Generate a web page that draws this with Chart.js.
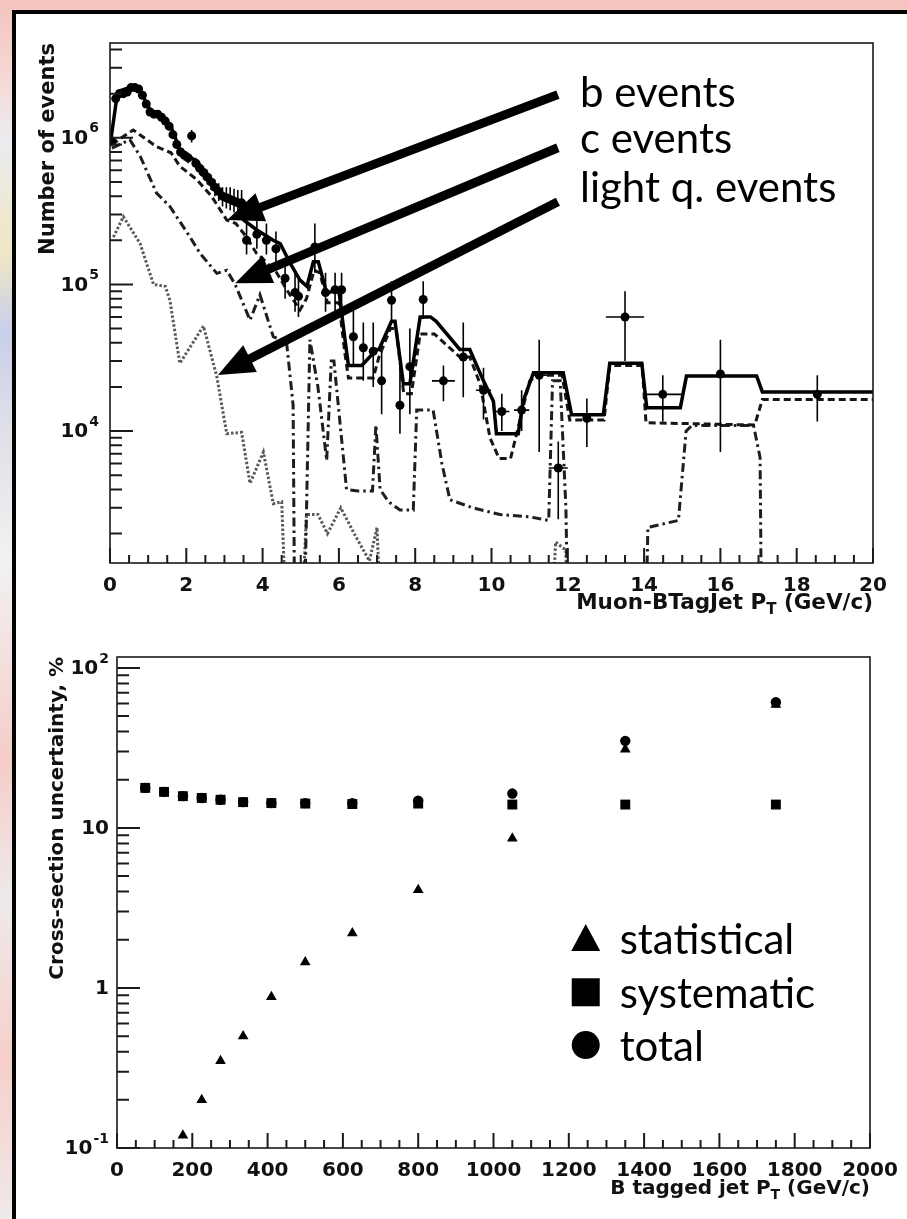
<!DOCTYPE html>
<html>
<head>
<meta charset="UTF-8">
<title>b-jet Muon PT and cross-section uncertainty</title>
<script src="https://cdn.jsdelivr.net/npm/chart.js@4.4.1/dist/chart.umd.min.js"></script>
<style>
  body{margin:0;width:907px;height:1219px;overflow:hidden;position:relative;
    background:linear-gradient(180deg,#f4c3bd 0,#f6d6d2 70px,#ececf0 140px,#f0e7c4 250px,#c9cfe9 330px,#dfe0e8 430px,#f2f2f2 560px,#f5cdc9 760px,#eeeaea 900px,#f6cfca 1060px,#efe9e9 1219px);}
  #panel{position:absolute;left:12px;top:10px;right:0;bottom:0;background:#fff;
    border-left:4px solid #000;border-top:4px solid #000;}
  #topChart{position:absolute;left:0;top:0;}
  #bottomChart{position:absolute;left:0;top:620px;}
</style>
</head>
<body>
<div id="panel"></div>
<canvas id="topChart" width="907" height="620"></canvas>
<canvas id="bottomChart" width="907" height="599"></canvas>
<script>
// ---- top plot: muon pT relative to b-tagged jet ----
// value, mantissa text, exponent text
const topYLabels=[[1e4,"10","4"],[1e5,"10","5"],[1e6,"10","6"]];

// x, value  (100 = empty bin, drawn below the axis)
const totalMC=[[0.03,1.0e6],[0.2,2.07e6],[0.6,2.24e6],[0.8,2.07e6],[1.05,1.55e6],[1.3,1.4e6],[1.6,1.19e6],
  [1.83,8.3e5],[2.27,6.9e5],[2.62,5.2e5],[2.97,4.0e5],[3.19,3.7e5],[3.41,3.4e5],[3.5,2.75e5],[3.85,2.35e5],
  [4.28,2.0e5],[4.46,1.9e5],[4.72,1.4e5],[4.98,1.07e5],[5.16,9.7e4],[5.33,1.43e5],[5.46,1.43e5],[5.68,8.7e4],
  [5.85,9.0e4],[6.0,9.0e4],[6.15,4.4e4],[6.25,2.8e4],[6.6,2.8e4],[6.99,3.6e4],[7.05,3.6e4],[7.38,5.6e4],
  [7.47,5.6e4],[7.69,2.1e4],[7.86,2.1e4],[8.13,6.0e4],[8.4,6.0e4],[8.55,5.6e4],[9.17,3.6e4],[9.43,3.6e4],
  [9.79,2.2e4],[10.05,1.6e4],[10.13,9.6e3],[10.7,9.6e3],[10.83,1.6e4],[11.1,2.5e4],[11.88,2.5e4],[12.1,1.29e4],
  [12.93,1.29e4],[13.1,2.9e4],[13.94,2.9e4],[14.07,1.44e4],[14.95,1.44e4],[15.11,2.37e4],[16.95,2.37e4],
  [17.1,1.85e4],[20,1.85e4]];
const bEvents=[[0.05,9.0e5],[0.3,1.0e6],[0.61,1.13e6],[1.22,8.7e5],[1.6,7.9e5],[1.83,6.4e5],[2.27,5.2e5],
  [2.66,4.0e5],[3.06,2.75e5],[3.3,2.6e5],[3.58,2.1e5],[3.84,1.63e5],[4.0,1.5e5],[4.37,1.2e5],[4.63,9.2e4],
  [4.98,6.7e4],[5.15,8.0e4],[5.35,1.25e5],[5.5,1.2e5],[5.7,7.5e4],[6.0,7.5e4],[6.15,3.5e4],[6.25,2.3e4],
  [6.9,2.3e4],[7.05,3.2e4],[7.35,5.0e4],[7.5,5.0e4],[7.7,1.8e4],[7.9,1.8e4],[8.13,4.6e4],[8.5,4.6e4],
  [9.17,3.2e4],[9.43,3.2e4],[9.7,2.1e4],[9.96,9.0e3],[10.2,6.5e3],[10.5,6.5e3],[10.75,1.2e4],[11.0,2.2e4],
  [11.2,2.4e4],[11.85,2.4e4],[12.05,1.19e4],[12.95,1.19e4],[13.1,2.8e4],[13.95,2.8e4],[14.05,1.14e4],
  [16.9,1.1e4],[17.1,1.64e4],[20,1.64e4]];
const cEvents=[[0.05,8.5e5],[0.52,9.7e5],[0.79,7.5e5],[1.22,4.2e5],[1.57,3.4e5],[2.1,2.1e5],[2.36,1.63e5],
  [2.8,1.19e5],[3.06,1.25e5],[3.28,1.0e5],[3.49,7.4e4],[3.67,5.7e4],[3.93,8.5e4],[4.28,4.4e4],[4.63,4.0e4],
  [4.8,1.5e4],[4.86,100],[5.04,100],[5.24,4.2e4],[5.45,2.0e4],[5.68,6.3e3],[5.8,3.0e4],[5.87,3.0e4],
  [6.2,4.0e3],[6.5,3.9e3],[6.88,3.9e3],[6.97,1.1e4],[7.08,4.0e3],[7.3,3.3e3],[7.6,2.9e3],[7.95,2.9e3],
  [8.04,1.39e4],[8.47,1.39e4],[8.7,6.0e3],[8.91,3.4e3],[9.5,3.0e3],[10.22,2.7e3],[11.0,2.6e3],[11.5,2.46e3],
  [11.6,2.2e4],[11.8,2.2e4],[11.95,3.0e3],[12.05,100],[13.98,100],[14.1,2.2e3],[14.9,2.46e3],[15.1,1.0e4],
  [15.25,1.09e4],[16.87,1.09e4],[17.04,6.6e3],[17.1,100],[20,100]];
const lightEvents=[[0.09,2.1e5],[0.35,2.9e5],[0.79,1.9e5],[1.14,1.0e5],[1.45,9.7e4],[1.57,7.8e4],[1.83,2.9e4],
  [2.45,5.2e4],[2.8,2.35e4],[3.06,9.6e3],[3.45,9.8e3],[3.67,4.4e3],[4.02,7.2e3],[4.28,3.2e3],[4.5,3.3e3],
  [4.72,100],[4.9,100],[5.15,2.7e3],[5.45,2.7e3],[5.7,2.0e3],[6.05,3.0e3],[6.4,2.0e3],[6.8,1.3e3],[7.0,2.2e3],
  [7.2,100],[11.45,100],[11.68,1.75e3],[11.95,1.54e3],[12.05,100],[20,100]];
// x, value, low, high, x half-width
const dataPoints=[[0.05,9.5e5,8.8e5,1.02e6,0.05],[0.15,1.85e6,1.75e6,1.95e6,0.05],[0.25,2.0e6,1.9e6,2.1e6,0.05],
  [0.35,2.0e6,1.9e6,2.1e6,0.05],[0.45,2.05e6,1.95e6,2.15e6,0.05],[0.55,2.2e6,2.1e6,2.3e6,0.05],
  [0.65,2.2e6,2.1e6,2.3e6,0.05],[0.75,2.15e6,2.05e6,2.25e6,0.05],[0.85,1.95e6,1.85e6,2.05e6,0.05],
  [0.95,1.7e6,1.6e6,1.8e6,0.05],[1.05,1.5e6,1.42e6,1.58e6,0.05],[1.15,1.45e6,1.37e6,1.53e6,0.05],
  [1.25,1.45e6,1.37e6,1.53e6,0.05],[1.35,1.38e6,1.3e6,1.46e6,0.05],[1.45,1.3e6,1.22e6,1.38e6,0.05],
  [1.55,1.2e6,1.12e6,1.28e6,0.05],[1.65,1.05e6,9.8e5,1.12e6,0.05],[1.75,9.0e5,8.4e5,9.6e5,0.05],
  [1.85,8.0e5,7.4e5,8.6e5,0.05],[1.95,7.6e5,7.0e5,8.2e5,0.05],[2.05,7.3e5,6.7e5,7.9e5,0.05],
  [2.14,1.03e6,9.3e5,1.13e6,0.05],[2.25,6.7e5,6.1e5,7.3e5,0.05],[2.35,6.2e5,5.6e5,6.8e5,0.05],
  [2.45,5.8e5,5.2e5,6.4e5,0.05],[2.55,5.4e5,4.8e5,6.0e5,0.05],[2.65,5.0e5,4.4e5,5.6e5,0.05],
  [2.75,4.6e5,4.0e5,5.2e5,0.05],[2.85,4.3e5,3.7e5,4.9e5,0.05],[2.95,4.0e5,3.4e5,4.6e5,0.05],
  [3.05,3.9e5,3.3e5,4.6e5,0.05],[3.15,3.8e5,3.2e5,4.6e5,0.05],[3.25,3.7e5,3.1e5,4.5e5,0.05],
  [3.35,3.6e5,3.0e5,4.4e5,0.05],[3.45,3.6e5,3.0e5,4.4e5,0.05],[3.58,2.0e5,1.6e5,2.6e5,0.1],
  [3.85,2.2e5,1.75e5,2.8e5,0.1],[4.1,2.0e5,1.6e5,2.6e5,0.1],[4.35,1.75e5,1.35e5,2.3e5,0.1],
  [4.59,1.1e5,8.0e4,1.45e5,0.1],[4.85,8.8e4,6.5e4,1.2e5,0.1],[4.94,8.3e4,6.0e4,1.1e5,0.1],
  [5.37,1.8e5,1.2e5,2.6e5,0.1],[5.65,8.8e4,6.5e4,1.2e5,0.1],[5.9,9.2e4,6.5e4,1.2e5,0.1],
  [6.07,9.2e4,6.5e4,1.2e5,0.1],[6.38,4.4e4,2.75e4,7.0e4,0.1],[6.64,3.7e4,2.2e4,5.5e4,0.1],
  [6.9,3.5e4,2.0e4,5.5e4,0.1],[7.12,2.2e4,1.3e4,3.5e4,0.1],[7.38,7.8e4,5.5e4,1.05e5,0.1],
  [7.6,1.5e4,9.6e3,2.75e4,0.1],[7.86,2.75e4,1.3e4,5.0e4,0.1],[8.21,7.9e4,5.8e4,1.05e5,0.1],
  [8.74,2.2e4,1.6e4,2.8e4,0.3],[9.26,3.2e4,1.7e4,5.5e4,0.1],[9.79,1.9e4,1.2e4,2.7e4,0.2],
  [10.27,1.36e4,1.0e4,1.8e4,0.2],[10.79,1.39e4,1.0e4,1.9e4,0.2],[11.25,2.4e4,7.2e3,4.2e4,0.2],
  [11.75,5.6e3,2.5e3,8.5e3,0.25],[12.5,1.22e4,7.8e3,1.67e4,0.1],[13.5,6.0e4,3.0e4,9.0e4,0.5],
  [14.49,1.78e4,1.16e4,2.4e4,0.5],[16.0,2.45e4,7.2e3,4.2e4,0.05],[18.54,1.78e4,1.16e4,2.4e4,0.05]];

// call-outs, in data units: text anchor, arrow start, arrow tip
const calloutText=["b events","c events","light q. events"];
const calloutAnchor=[[12.32,1.63e6],[12.32,7.9e5],[12.32,3.66e5]];
const arrowStart=[[11.74,1.97e6],[11.74,8.55e5],[11.74,3.66e5]];
const arrowTip=[[3.07,2.75e5],[3.28,1.02e5],[2.83,2.41e4]];

// ---- bottom plot: cross-section uncertainty ----
const jetPt=[75,125,175,225,275,335,410,500,625,800,1050,1350,1750];
const statErr=[null,null,0.12,0.2,0.35,0.5,0.88,1.45,2.2,4.1,8.6,31,59];
const systErr=[17.8,16.8,15.8,15.4,15.0,14.5,14.3,14.2,14.1,14.2,14.0,14.0,14.0];
const totalErr=[17.8,16.8,15.8,15.4,15.0,14.5,14.3,14.3,14.3,14.8,16.4,35,61];
const botYLabels=[[0.1,"10","-1"],[1,"1",""],[10,"10",""],[100,"10","2"]];
const legendNames=["statistical","systematic","total"];
const legendShapes=["triangle","rect","circle"];
const legendSymbolX=1245, legendTextX=1335;
const legendRowY=[2.05,0.94,0.44];

Chart.defaults.font.family="'DejaVu Sans', sans-serif";
Chart.defaults.color="#111";
Chart.defaults.animation=false;

const xy=a=>a.map(p=>({x:p[0],y:p[1]}));

const rootFrame={
  id:"rootFrame",
  afterDraw(chart,args,o){
    const {ctx,chartArea:a,scales:{x,y}}=chart;
    ctx.save();
    ctx.strokeStyle="#1a1a1a";
    ctx.lineWidth=1.6;
    ctx.strokeRect(a.left,a.top,a.right-a.left,a.bottom-a.top);
    ctx.lineWidth=2;
    ctx.beginPath();
    const n=Math.round((x.max-x.min)/o.xMinor);
    for(let i=0;i<=n;i++){
      const v=x.min+i*o.xMinor;
      const px=x.getPixelForValue(v);
      const len=(i%o.xEvery===0)?15:8;
      ctx.moveTo(px,a.bottom);ctx.lineTo(px,a.bottom-len);
    }
    for(let d=Math.floor(Math.log10(y.min));d<=Math.ceil(Math.log10(y.max));d++){
      for(let m=1;m<10;m++){
        const v=m*Math.pow(10,d);
        if(v<y.min||v>y.max) continue;
        const py=y.getPixelForValue(v);
        ctx.moveTo(a.left,py);ctx.lineTo(a.left+(m===1?23:12),py);
      }
    }
    ctx.stroke();
    ctx.fillStyle="#111";
    // y labels: 10 with a raised exponent
    const base="bold 20px 'DejaVu Sans'", expo="bold 14px 'DejaVu Sans'";
    ctx.textBaseline="middle";
    for(const [v,m,e] of o.yLabels){
      const py=y.getPixelForValue(v);
      let r=a.left-o.yPad;
      if(e){
        ctx.font=expo;
        const we=ctx.measureText(e).width;
        ctx.fillText(e,r-we,py-9);
        r-=we+1;
      }
      ctx.font=base;
      ctx.fillText(m,r-ctx.measureText(m).width,py+1);
    }
    // x title with subscript T
    const big="bold "+o.titleSize+"px 'DejaVu Sans'", small="bold "+Math.round(o.titleSize*0.7)+"px 'DejaVu Sans'";
    const [t1,sub,t3]=o.xTitle;
    ctx.font=big;
    const w1=ctx.measureText(t1).width, w3=ctx.measureText(t3).width;
    ctx.font=small;
    const w2=ctx.measureText(sub).width;
    let cx=a.right-(w1+w2+w3);
    const by=a.bottom+o.titleGap;
    ctx.textBaseline="alphabetic";
    ctx.font=big;ctx.fillText(t1,cx,by);cx+=w1;
    ctx.font=small;ctx.fillText(sub,cx,by+5);cx+=w2;
    ctx.font=big;ctx.fillText(t3,cx,by);
    ctx.restore();
  }
};

const errorBars={
  id:"errorBars",
  afterDatasetsDraw(chart,args,o){
    if(!o.points) return;
    const {ctx,chartArea:a,scales:{x,y}}=chart;
    ctx.save();
    ctx.beginPath();ctx.rect(a.left,a.top,a.right-a.left,a.bottom-a.top);ctx.clip();
    ctx.strokeStyle="#000";ctx.lineWidth=1.6;
    ctx.beginPath();
    for(const [vx,vy,lo,hi,xe] of o.points){
      const cx=x.getPixelForValue(vx), cy=y.getPixelForValue(vy);
      ctx.moveTo(cx,y.getPixelForValue(hi));ctx.lineTo(cx,y.getPixelForValue(lo));
      ctx.moveTo(x.getPixelForValue(vx-xe),cy);ctx.lineTo(x.getPixelForValue(vx+xe),cy);
    }
    ctx.stroke();
    ctx.restore();
  }
};

const callouts={
  id:"callouts",
  afterDraw(chart,args,o){
    if(!o.text) return;
    const {ctx,scales:{x,y}}=chart;
    ctx.save();
    ctx.fillStyle="#000";ctx.strokeStyle="#000";
    ctx.font="42px Lato";
    ctx.textBaseline="alphabetic";
    o.text.forEach((t,i)=>{
      ctx.fillText(t,x.getPixelForValue(o.anchor[i][0]),y.getPixelForValue(o.anchor[i][1]));
      const sx=x.getPixelForValue(o.start[i][0]), sy=y.getPixelForValue(o.start[i][1]);
      const tx=x.getPixelForValue(o.tip[i][0]), ty=y.getPixelForValue(o.tip[i][1]);
      const ang=Math.atan2(ty-sy,tx-sx);
      const head=36, half=15;
      const bx=tx-Math.cos(ang)*head, byy=ty-Math.sin(ang)*head;
      ctx.lineWidth=9;ctx.lineCap="butt";
      ctx.beginPath();ctx.moveTo(sx,sy);ctx.lineTo(bx+Math.cos(ang)*4,byy+Math.sin(ang)*4);ctx.stroke();
      ctx.beginPath();
      ctx.moveTo(tx,ty);
      ctx.lineTo(bx-Math.sin(ang)*half,byy+Math.cos(ang)*half);
      ctx.lineTo(bx+Math.sin(ang)*half,byy-Math.cos(ang)*half);
      ctx.closePath();ctx.fill();
    });
    ctx.restore();
  }
};

const shapeLegend={
  id:"shapeLegend",
  afterDraw(chart,args,o){
    if(!o.names) return;
    const {ctx,scales:{x,y}}=chart;
    ctx.save();
    ctx.fillStyle="#000";
    ctx.font="42px Lato";
    ctx.textBaseline="middle";
    const sx=x.getPixelForValue(o.symbolX), tx=x.getPixelForValue(o.textX);
    o.names.forEach((nm,i)=>{
      const cy=y.getPixelForValue(o.rows[i]);
      ctx.beginPath();
      if(o.shapes[i]==="triangle"){
        ctx.moveTo(sx,cy-14);ctx.lineTo(sx+14.5,cy+13);ctx.lineTo(sx-14.5,cy+13);ctx.closePath();
      }else if(o.shapes[i]==="rect"){
        ctx.rect(sx-14,cy-14,28,28);
      }else{
        ctx.arc(sx,cy,14,0,Math.PI*2);
      }
      ctx.fill();
      ctx.fillText(nm,tx,cy+2);
    });
    ctx.restore();
  }
};

const tickFont={family:"'DejaVu Sans'",size:20,weight:"bold"};

new Chart(document.getElementById("topChart"),{
  type:"line",
  data:{datasets:[
    {label:"data",data:xy(dataPoints),showLine:false,pointRadius:4.5,pointBackgroundColor:"#000",pointBorderWidth:0},
    {label:"total",data:xy(totalMC),borderColor:"#000",borderWidth:3.5,pointRadius:0},
    {label:"b",data:xy(bEvents),borderColor:"#161616",borderWidth:3,borderDash:[7,4],pointRadius:0},
    {label:"c",data:xy(cEvents),borderColor:"#1e1e1e",borderWidth:3,borderDash:[9,4,2.5,4],pointRadius:0},
    {label:"light q.",data:xy(lightEvents),borderColor:"#5a5a5a",borderWidth:3,borderDash:[2.5,2],pointRadius:0}
  ]},
  options:{
    responsive:false,
    devicePixelRatio:1,
    layout:{padding:{left:0,top:43,right:34,bottom:0}},
    plugins:{
      legend:{display:false},tooltip:{enabled:false},
      rootFrame:{xMinor:0.5,xEvery:4,xTitle:["Muon-BTagJet P","T"," (GeV/c)"],titleSize:21.5,titleGap:46,
        yLabels:topYLabels,yPad:11},
      errorBars:{points:dataPoints},
      callouts:{text:calloutText,anchor:calloutAnchor,start:arrowStart,tip:arrowTip}
    },
    scales:{
      x:{type:"linear",min:0,max:20,
        grid:{display:false},border:{display:false},
        ticks:{stepSize:2,padding:3,font:tickFont,maxRotation:0,autoSkip:false,callback:v=>String(v)},
        afterFit(s){s.height=57;}},
      y:{type:"logarithmic",min:1260,max:4.43e6,
        grid:{display:false},border:{display:false},
        ticks:{display:false},
        title:{display:true,text:"Number of events",align:"end",padding:{top:36},
          font:{family:"'DejaVu Sans'",size:21,weight:"bold"}},
        afterFit(s){s.width=110;}}
    }
  },
  plugins:[rootFrame,errorBars,callouts]
});

const ptData=vals=>jetPt.map((p,i)=>({x:p,y:vals[i]}));

new Chart(document.getElementById("bottomChart"),{
  type:"line",
  data:{datasets:[
    {label:"systematic",data:ptData(systErr),showLine:false,pointStyle:"rect",pointRadius:7,
      pointBackgroundColor:"#000",pointBorderWidth:0},
    {label:"total",data:ptData(totalErr),showLine:false,pointStyle:"circle",pointRadius:5.2,
      pointBackgroundColor:"#000",pointBorderWidth:0},
    {label:"statistical",data:ptData(statErr),showLine:false,pointStyle:"triangle",pointRadius:6.2,
      pointBackgroundColor:"#000",pointBorderWidth:0}
  ]},
  options:{
    responsive:false,
    devicePixelRatio:1,
    layout:{padding:{left:0,top:37,right:37,bottom:0}},
    plugins:{
      legend:{display:false},tooltip:{enabled:false},
      rootFrame:{xMinor:50,xEvery:4,xTitle:["B tagged jet P","T"," (GeV/c)"],titleSize:20,titleGap:46,
        yLabels:botYLabels,yPad:8},
      shapeLegend:{names:legendNames,shapes:legendShapes,symbolX:legendSymbolX,textX:legendTextX,rows:legendRowY}
    },
    scales:{
      x:{type:"linear",min:0,max:2000,
        grid:{display:false},border:{display:false},
        ticks:{stepSize:200,padding:3,font:tickFont,maxRotation:0,autoSkip:false,callback:v=>String(v)},
        afterFit(s){s.height=71;}},
      y:{type:"logarithmic",min:0.1,max:117,
        grid:{display:false},border:{display:false},
        ticks:{display:false},
        title:{display:true,text:"Cross-section uncertainty, %",align:"end",padding:{top:46},
          font:{family:"'DejaVu Sans'",size:20,weight:"bold"}},
        afterFit(s){s.width=117;}}
    }
  },
  plugins:[rootFrame,shapeLegend]
});
</script>
</body>
</html>
